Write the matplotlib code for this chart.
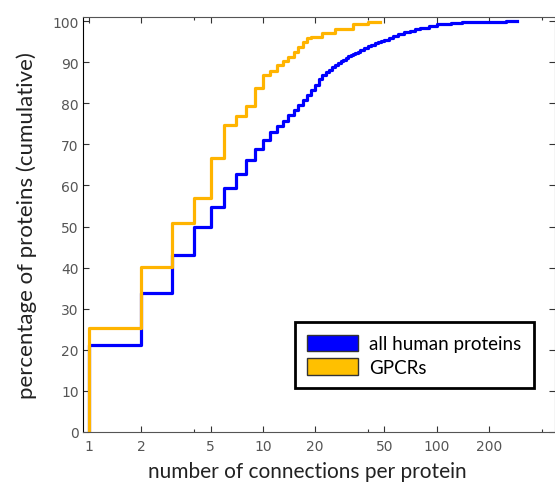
import numpy as np
import matplotlib.pyplot as plt
from matplotlib.patches import Patch
from matplotlib.ticker import FixedLocator, NullFormatter

# cumulative percentage of proteins vs number of connections
human_x = [1, 1, 2, 3, 4, 5, 6, 7, 8, 9, 10, 11, 12, 13, 14, 15, 16, 17, 18, 19, 20,
           21, 22, 23, 24, 25, 26, 27, 28, 29, 30, 31, 32, 33, 34, 35, 36, 38, 40,
           42, 44, 46, 48, 50, 53, 56, 60, 65, 70, 75, 80, 90, 100, 110, 120, 140,
           160, 200, 250, 288]
human_y = [0, 21.1, 33.8, 43.1, 49.8, 54.8, 59.3, 62.8, 66.2, 68.9, 71.0, 73.1, 74.5,
           75.7, 77.2, 78.4, 79.5, 80.8, 82.0, 83.3, 84.5,
           85.8, 86.9, 87.6, 88.2, 88.8, 89.3, 89.8, 90.2, 90.6, 91.0, 91.4, 91.7,
           92.0, 92.3, 92.6, 92.9, 93.4, 93.9,
           94.3, 94.6, 94.9, 95.2, 95.5, 95.9, 96.3, 96.8, 97.3, 97.7, 98.1, 98.4,
           98.9, 99.2, 99.4, 99.6, 99.7, 99.8, 99.9, 100.0, 100.0]

gpcr_x = [1, 1, 2, 3, 4, 5, 6, 7, 8, 9, 10, 11, 12, 13, 14, 15, 16, 17, 18, 19,
          22, 26, 33, 40, 47]
gpcr_y = [0, 25.3, 40.1, 50.8, 57.0, 66.8, 74.8, 77.0, 79.3, 83.8, 86.8, 87.9, 89.4,
          90.3, 91.2, 92.5, 93.8, 95.0, 95.8, 96.2, 97.2, 98.0, 99.2, 99.7, 99.7]

xticks = [1, 2, 5, 10, 20, 50, 100, 200]
xminor = [4, 40, 400]
yticks = list(range(0, 101, 10))

blue = "#0000ff"
orange = "#ffb400"

fig = plt.figure(figsize=(5.55, 4.85), dpi=100)
ax = fig.add_axes([83 / 555, 52 / 485, 471.5 / 555, 415 / 485])

ax.plot(human_x, human_y, drawstyle="steps-post", color=blue, lw=2.3)
ax.plot(gpcr_x, gpcr_y, drawstyle="steps-post", color=orange, lw=2.3)

ax.set_xscale("log")
ax.set_xlim(0.924, 475)
ax.set_ylim(0, 101)

ax.xaxis.set_major_locator(FixedLocator(xticks))
ax.set_xticklabels([str(t) for t in xticks])
ax.xaxis.set_minor_locator(FixedLocator(xminor))
ax.xaxis.set_minor_formatter(NullFormatter())
ax.set_yticks(yticks)

ax.tick_params(which="both", direction="in", top=True, right=True,
               colors="#333333", labelcolor="#555555", labelsize=10)
ax.tick_params(which="major", length=4, width=0.8)
ax.tick_params(which="minor", length=2.5, width=0.8)
ax.tick_params(axis="x", pad=5)
ax.tick_params(axis="y", pad=3)

for side in ["top", "right", "bottom"]:
    ax.spines[side].set_color("#555555")
ax.spines["left"].set_color("black")

fam = ["Lato", "DejaVu Sans"]
ax.set_xlabel("number of connections per protein", family=fam, size=15,
              color="#222222", va="center")
ax.set_ylabel("percentage of proteins (cumulative)", family=fam, size=16,
              color="#222222", va="center")
ax.xaxis.set_label_coords(0.476, -0.094)
ax.yaxis.set_label_coords(-0.119, 0.501)

handles = [Patch(facecolor=blue, edgecolor="#333333", lw=1),
           Patch(facecolor="#ffc000", edgecolor="#333333", lw=1)]
leg = ax.legend(handles, ["all human proteins", "GPCRs"],
                loc="lower left", bbox_to_anchor=(0.45, 0.106),
                prop=dict(family=fam, size=13.5),
                fancybox=False, framealpha=1, edgecolor="black",
                handlelength=2.7, handleheight=1.0, labelspacing=0.3,
                handletextpad=0.6, borderpad=0.65, borderaxespad=0)
leg.get_frame().set_linewidth(2)

fig.savefig("out.png", dpi=100)
